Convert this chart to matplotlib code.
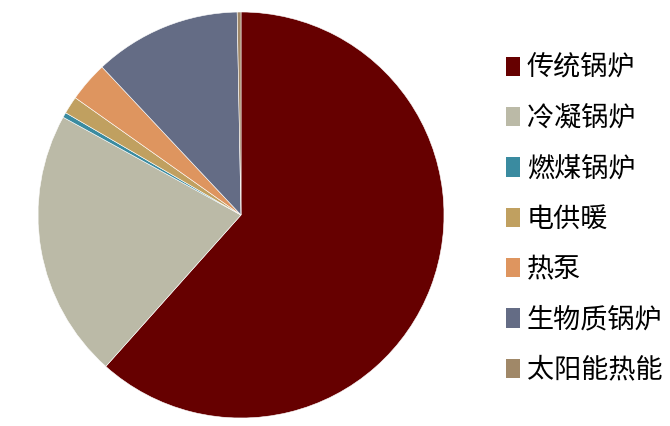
import matplotlib
matplotlib.use("Agg")
import matplotlib.pyplot as plt
from matplotlib.patches import Patch

plt.rcParams['font.family'] = ['Noto Sans CJK SC', 'DejaVu Sans']

categories = ['传统锅炉', '冷凝锅炉', '燃煤锅炉', '电供暖', '热泵', '生物质锅炉', '太阳能热能']
values = [61.6, 21.4, 0.4, 1.4, 3.2, 11.7, 0.3]
colors = ['#660000', '#BBBAA7', '#3A8BA0', '#C0A060', '#DE955F', '#646C85', '#A08868']

fig = plt.figure(figsize=(6.70, 4.26), dpi=100)
cx, cy, r = 241, 215, 203
ax = fig.add_axes([(cx - r) / 670, (426 - cy - r) / 426, 2 * r / 670, 2 * r / 426])
ax.pie(values, colors=colors, startangle=90, counterclock=False,
       wedgeprops=dict(edgecolor='white', linewidth=0.4))
ax.set_xlim(-1, 1)
ax.set_ylim(-1, 1)
ax.set_aspect('equal')
ax.axis('off')

handles = [Patch(facecolor=c, edgecolor='none') for c in colors]
fig.legend(handles, categories, loc='upper left', bbox_to_anchor=(506 / 670, 1 - 55 / 426),
           frameon=False, fontsize=19.5, handlelength=0.52, handleheight=0.72,
           handletextpad=0.24, labelspacing=0.86, borderpad=0, borderaxespad=0)

fig.savefig('out.png', dpi=100)
